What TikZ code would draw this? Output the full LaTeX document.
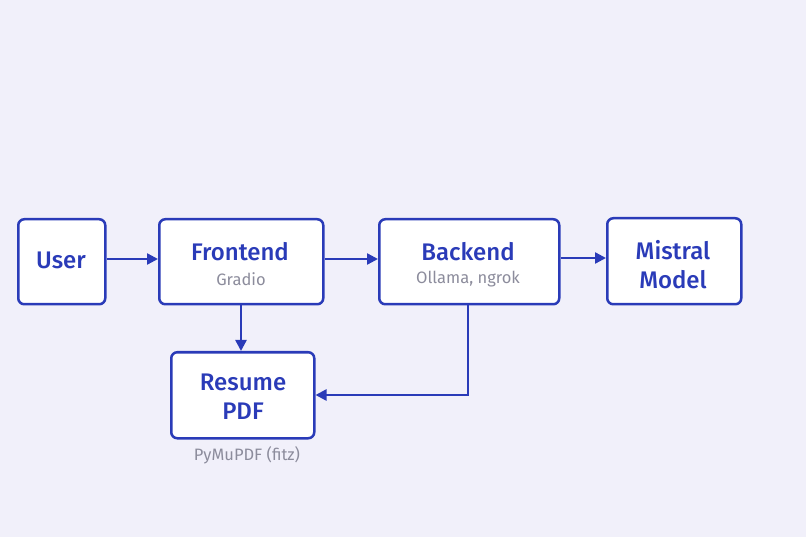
\documentclass[tikz,border=0pt]{standalone}
\usepackage{fontspec}
\setmainfont{Fira Sans}
\newfontfamily\ttlfont{Fira Sans Medium}
\usetikzlibrary{arrows.meta}
\definecolor{bg}{HTML}{F1F0FA}
\definecolor{ink}{HTML}{2A3BB8}
\definecolor{sub}{HTML}{8C8C9C}
\begin{document}
\begin{tikzpicture}[x=1pt,y=-1pt,
  box/.style={draw=ink, line width=2.5pt, rounded corners=6pt, fill=white, anchor=north west, inner sep=0pt},
  ttl/.style={text=ink, font=\ttlfont\fontsize{24}{29}\selectfont, align=center},
  subt/.style={text=sub, font=\fontsize{16.5}{18}\selectfont},
  conn/.style={draw=ink, line width=2.4pt, -{Triangle[length=11pt,width=11pt]}}]
\fill[bg] (0,0) rectangle (806,537);
\useasboundingbox (0,0) rectangle (806,537);
\node[box, minimum width=87pt, minimum height=85pt] (user) at (17,218) {};
\node[box, minimum width=164pt, minimum height=85pt] (front) at (158,218) {};
\node[box, minimum width=180pt, minimum height=85pt] (back) at (378,218) {};
\node[box, minimum width=134pt, minimum height=86pt] (mistral) at (606,217) {};
\node[box, minimum width=143pt, minimum height=86pt] (resume) at (170,351) {};
\node[ttl] at (61,260) {User};
\node[ttl] at (240,252) {Frontend};
\node[subt] at (241,279) {Gradio};
\node[ttl] at (468,252) {Backend};
\node[subt] at (468,279) {Ollama, ngrok};
\node[ttl] at (673,265) {Mistral\\Model};
\node[ttl] at (243,397) {Resume\\PDF};
\node[subt] (fitz) at (247,455) {PyMuPDF (fitz)};
\draw[conn] (user.east |- 0,259) -- (front.west |- 0,259);
\draw[conn] (front.east |- 0,259) -- (back.west |- 0,259);
\draw[conn] (back.east |- 0,258) -- (mistral.west |- 0,258);
\draw[conn] (front.south -| 241,0) -- (resume.north -| 241,0);
\draw[conn] (back.south -| 468,0) |- (resume.east |- 0,395);
\end{tikzpicture}
\end{document}
